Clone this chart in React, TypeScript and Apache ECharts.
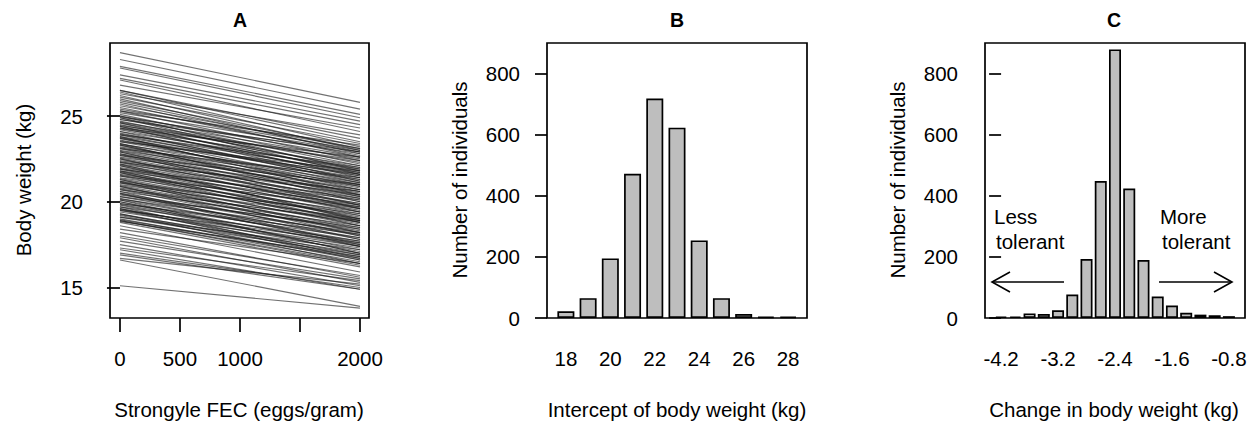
import React, { useEffect, useRef } from "react";
import * as echarts from "echarts";

// ---------- Panel A: individual reaction norms (body weight at FEC 0 and 2000) ----------
const aFec = [0, 2000];
const aStart = [
  28.7, 28.3, 27.9, 27.8, 27.4, 27.2, 27.1, 26.8, 26.5, 26.5, 26.4, 26.3, 26.2, 26.1, 26.0, 25.9, 25.8, 25.7,
  25.6, 25.5, 25.4, 25.3, 25.2, 25.1, 25.0, 24.95, 24.9, 24.8, 24.7, 24.65, 24.6, 24.5, 24.45, 24.4, 24.3, 24.25,
  24.2, 24.1, 24.0, 23.95, 23.9, 23.8, 23.75, 23.7, 23.6, 23.55, 23.5, 23.4, 23.35, 23.3, 23.2, 23.15, 23.1, 23.0,
  22.95, 22.9, 22.8, 22.75, 22.7, 22.6, 22.55, 22.5, 22.4, 22.35, 22.3, 22.2, 22.15, 22.1, 22.0, 21.95, 21.9, 21.8,
  21.75, 21.7, 21.6, 21.55, 21.5, 21.4, 21.35, 21.3, 21.2, 21.15, 21.1, 21.0, 20.95, 20.9, 20.8, 20.75, 20.7, 20.6,
  20.5, 20.45, 20.4, 20.3, 20.2, 20.15, 20.1, 20.0, 19.9, 19.85, 19.8, 19.7, 19.6, 19.55, 19.5, 19.4, 19.3, 19.25,
  19.2, 19.1, 19.0, 18.95, 18.9,
  25.3, 25.0, 24.8, 24.6, 24.3, 24.1, 23.9, 23.7, 23.5, 23.3, 23.1, 22.9, 22.7, 22.5, 22.3, 22.1, 21.9, 21.7,
  21.5, 21.3, 21.1, 20.9, 20.7, 20.5, 20.3, 20.1, 19.9, 19.7, 19.5, 19.3, 19.1, 18.9, 24.9, 24.4, 23.8, 23.4,
  22.8, 22.2, 21.8, 21.2, 20.6, 20.0, 19.6, 18.85,
  18.8, 18.6, 18.4, 18.2, 18.0, 17.9, 17.7, 17.5, 17.3, 17.2, 17.0, 16.9, 16.7, 16.6, 15.1,
];
const aEnd = [
  25.8, 25.4, 25.1, 24.9, 24.7, 24.5, 24.1, 24.3, 23.7, 23.5, 23.2, 23.9, 23.0, 23.4, 22.8, 23.1, 22.9, 22.6,
  23.1, 22.7, 23.0, 22.4, 22.9, 22.2, 22.6, 22.8, 22.1, 22.5, 21.9, 22.3, 22.0, 21.7, 22.4, 21.8, 21.5, 22.1,
  21.6, 21.9, 21.3, 21.7, 21.2, 21.5, 21.0, 21.4, 20.9, 21.6, 21.1, 20.8, 21.3, 20.6, 21.0, 20.7, 20.4, 20.9,
  20.5, 20.2, 20.7, 20.3, 20.0, 20.6, 20.1, 19.8, 20.4, 19.9, 19.6, 20.2, 19.7, 19.4, 19.9, 19.5, 19.2, 19.8,
  19.3, 19.0, 19.6, 19.1, 18.8, 19.4, 18.9, 18.6, 19.2, 18.7, 18.4, 19.0, 18.5, 18.2, 18.8, 18.3, 18.0, 18.6,
  18.1, 17.8, 18.4, 17.9, 17.6, 18.2, 17.7, 17.4, 17.9, 17.5, 17.2, 17.7, 17.1, 17.4, 16.9, 17.3, 16.8, 17.0,
  16.6, 16.9, 16.5, 16.7, 16.4,
  23.3, 21.8, 22.9, 21.4, 22.6, 21.1, 22.0, 20.7, 21.8, 20.3, 21.4, 19.8, 21.0, 19.4, 20.6, 19.0, 20.1, 18.6,
  19.7, 18.2, 19.3, 17.8, 18.9, 17.4, 18.5, 17.0, 18.1, 16.7, 17.6, 16.4, 17.2, 16.3, 21.6, 21.2, 20.4, 20.0,
  19.6, 18.9, 18.8, 18.0, 17.5, 17.0, 16.6, 16.8,
  16.2, 15.9, 16.4, 15.6, 15.7, 15.3, 15.5, 15.1, 15.4, 14.9, 15.0, 14.9, 15.2, 13.9, 13.8,
];
const aXTicks = [0, 500, 1000, 1500, 2000];
const aXLabels = [0, 500, 1000, 2000];
const aYTicks = [15, 20, 25];

// ---------- Panel B: histogram of intercepts ----------
const bBins = [18, 19, 20, 21, 22, 23, 24, 25, 26, 27, 28];
const bCounts = [22, 65, 195, 472, 718, 623, 254, 65, 13, 4, 4];
const bXLabels = [18, 20, 22, 24, 26, 28];
const countTicks = [0, 200, 400, 600, 800];

// ---------- Panel C: histogram of change in body weight ----------
const cBins = [0, 1, 2, 3, 4, 5, 6, 7, 8, 9, 10, 11, 12, 13, 14, 15, 16];
const cCounts = [5, 5, 15, 13, 25, 77, 193, 448, 879, 424, 190, 70, 41, 17, 11, 9, 6];
const cTickPos = [0, 4, 8, 12, 16];
const cTickLabels = ["-4.2", "-3.2", "-2.4", "-1.6", "-0.8"];

const FONT = "'Liberation Sans', Arial, Helvetica, sans-serif";
const LW = 1.7;
const FS = 20.5;

export default function App() {
  const ref = useRef<HTMLDivElement>(null);

  useEffect(() => {
    if (!ref.current) return;
    const chart = echarts.init(ref.current, undefined, { renderer: "svg" });

    const tickStyle = { color: "#000", width: LW };
    const labelBase = { color: "#000", fontSize: FS, fontFamily: FONT, formatter: (v: number) => String(v) };
    const gridBase = { top: 43, height: 275, show: true, borderColor: "#000", borderWidth: LW, backgroundColor: "#fff" };

    const countAxis = (gi: number) => ({
      gridIndex: gi,
      type: "value",
      min: 0,
      max: 900,
      axisLine: { show: false },
      splitLine: { show: false },
      axisTick: { show: true, length: 12, customValues: countTicks, lineStyle: tickStyle },
      axisLabel: { ...labelBase, margin: 27, customValues: countTicks },
    });

    const textEl = (text: string, x: number, y: number, extra: any = {}) => ({
      type: "text",
      x,
      y,
      rotation: extra.rotation || 0,
      style: {
        text,
        fill: "#000",
        fontSize: extra.size || FS,
        fontWeight: extra.weight || "normal",
        fontFamily: FONT,
        align: extra.align || "center",
        verticalAlign: "middle",
      },
    });

    const arrowStyle = { stroke: "#000", lineWidth: 1.6, fill: null };

    chart.setOption({
      animation: false,
      grid: [
        { ...gridBase, left: 110, width: 259 },
        { ...gridBase, left: 547, width: 260 },
        { ...gridBase, left: 985, width: 260 },
      ],
      xAxis: [
        {
          gridIndex: 0,
          type: "value",
          min: -83,
          max: 2075,
          axisLine: { show: false },
          splitLine: { show: false },
          axisTick: { show: true, length: 14, customValues: aXTicks, lineStyle: tickStyle },
          axisLabel: { ...labelBase, margin: 30, customValues: aXLabels },
        },
        {
          gridIndex: 1,
          type: "value",
          min: 17.15,
          max: 28.85,
          axisLine: { show: false },
          splitLine: { show: false },
          axisTick: { show: false },
          axisLabel: { ...labelBase, margin: 30, customValues: bXLabels },
        },
        {
          gridIndex: 2,
          type: "value",
          min: -1.13,
          max: 17.13,
          axisLine: { show: false },
          splitLine: { show: false },
          axisTick: { show: false },
          axisLabel: {
            ...labelBase,
            margin: 30,
            customValues: cTickPos,
            formatter: (v: number) => {
              const i = cTickPos.indexOf(Math.round(v));
              return i >= 0 ? cTickLabels[i] : "";
            },
          },
        },
      ],
      yAxis: [
        {
          gridIndex: 0,
          type: "value",
          min: 13.22,
          max: 29.26,
          axisLine: { show: false },
          splitLine: { show: false },
          axisTick: { show: true, length: 13, customValues: aYTicks, lineStyle: tickStyle },
          axisLabel: { ...labelBase, margin: 27, customValues: aYTicks },
        },
        countAxis(1),
        countAxis(2),
      ],
      series: [
        {
          type: "lines",
          coordinateSystem: "cartesian2d",
          xAxisIndex: 0,
          yAxisIndex: 0,
          silent: true,
          lineStyle: { color: "#1a1a1a", width: 1.15, opacity: 0.62 },
          data: aStart.map((s, i) => ({ coords: [[aFec[0], s], [aFec[1], aEnd[i]]] })),
        },
        {
          type: "bar",
          xAxisIndex: 1,
          yAxisIndex: 1,
          barWidth: 17,
          itemStyle: { color: "#bebebe", borderColor: "#000", borderWidth: LW },
          data: bBins.map((b, i) => [b, bCounts[i]]),
        },
        {
          type: "bar",
          xAxisIndex: 2,
          yAxisIndex: 2,
          barWidth: 12,
          itemStyle: { color: "#bebebe", borderColor: "#000", borderWidth: LW },
          data: cBins.map((b, i) => [b, cCounts[i]]),
        },
      ],
      graphic: [
        textEl("A", 240, 20, { weight: "bold", size: 19.5 }),
        textEl("B", 677, 20, { weight: "bold", size: 19.5 }),
        textEl("C", 1114, 20, { weight: "bold", size: 19.5 }),
        textEl("Strongyle FEC (eggs/gram)", 239, 409),
        textEl("Intercept of body weight (kg)", 677, 409),
        textEl("Change in body weight (kg)", 1114, 409),
        textEl("Body weight (kg)", 23, 180, { rotation: Math.PI / 2 }),
        textEl("Number of individuals", 459, 180, { rotation: Math.PI / 2 }),
        textEl("Number of individuals", 897, 180, { rotation: Math.PI / 2 }),
        textEl("Less", 994, 216, { align: "left" }),
        textEl("tolerant", 996, 241, { align: "left" }),
        textEl("More", 1160, 216, { align: "left" }),
        textEl("tolerant", 1162, 241, { align: "left" }),
        { type: "line", shape: { x1: 1064, y1: 282, x2: 992, y2: 282 }, style: arrowStyle },
        { type: "polyline", shape: { points: [[1010, 272], [992, 282], [1010, 292]] }, style: arrowStyle },
        { type: "line", shape: { x1: 1159, y1: 282, x2: 1232, y2: 282 }, style: arrowStyle },
        { type: "polyline", shape: { points: [[1214, 272], [1232, 282], [1214, 292]] }, style: arrowStyle },
      ],
    });

    return () => chart.dispose();
  }, []);

  return (
    <div
      ref={ref}
      style={{ position: "fixed", left: 0, top: 0, width: 1253, height: 423, background: "#fff" }}
    />
  );
}
